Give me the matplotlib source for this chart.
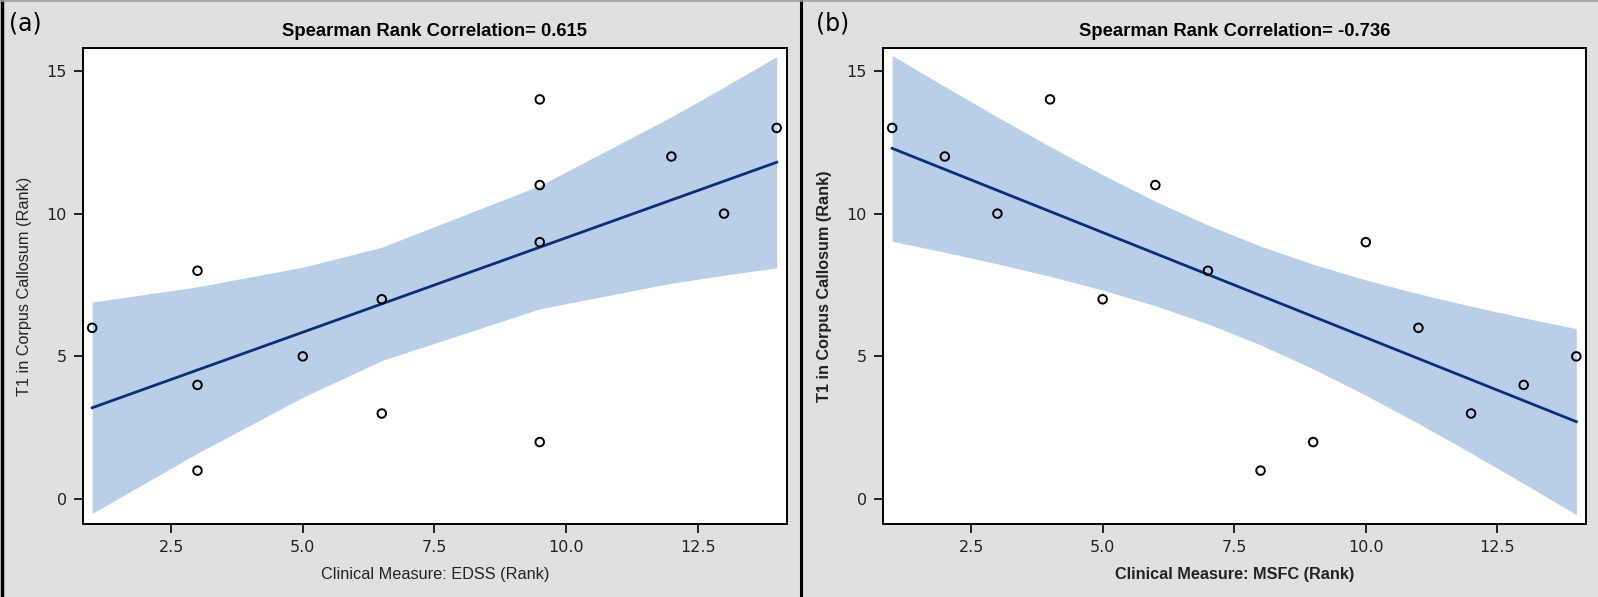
import numpy as np
import matplotlib
matplotlib.use("Agg")
import matplotlib.pyplot as plt
from matplotlib import font_manager as fm
from matplotlib.lines import Line2D

# ---- data ----
edss_rank = [1, 3, 3, 3, 5, 6.5, 6.5, 9.5, 9.5, 9.5, 9.5, 12, 13, 14]
t1_rank_a = [6, 8, 4, 1, 5, 7, 3, 14, 11, 9, 2, 12, 10, 13]
msfc_rank = [1, 2, 3, 4, 5, 6, 7, 8, 9, 10, 11, 12, 13, 14]
t1_rank_b = [13, 12, 10, 14, 7, 11, 8, 1, 2, 9, 6, 3, 4, 5]
titles = ["Spearman Rank Correlation= 0.615", "Spearman Rank Correlation= -0.736"]
xlabels = ["Clinical Measure: EDSS (Rank)", "Clinical Measure: MSFC (Rank)"]
ylabel = "T1 in Corpus Callosum (Rank)"
panel_tags = ["(a)", "(b)"]
xticks = [2.5, 5.0, 7.5, 10.0, 12.5]
yticks = [0, 5, 10, 15]
T_CRIT = 2.1788  # t(0.975, df=12)

names = {f.name for f in fm.fontManager.ttflist}
narrow = "Liberation Sans Narrow" if "Liberation Sans Narrow" in names else "Liberation Sans"
tickfam = "DejaVu Sans"

BG = "#e0e0e0"
BAND = "#b9cfe8"
LINE = "#0b2e78"

fig = plt.figure(figsize=(15.98, 5.97), dpi=100, facecolor=BG)
W, H = 1598, 597
ax_a = fig.add_axes([82.7 / W, 1 - 524 / H, 704 / W, 476 / H])
ax_b = fig.add_axes([882.7 / W, 1 - 524 / H, 703.6 / W, 476 / H])


def fit_band(x, y):
    x = np.asarray(x, float)
    y = np.asarray(y, float)
    n = len(x)
    xm, ym = x.mean(), y.mean()
    sxx = ((x - xm) ** 2).sum()
    b = ((x - xm) * (y - ym)).sum() / sxx
    a = ym - b * xm
    resid = y - (a + b * x)
    s = np.sqrt((resid ** 2).sum() / (n - 2))
    xg = np.unique(x)
    yg = a + b * xg
    se = s * np.sqrt(1.0 / n + (xg - xm) ** 2 / sxx)
    return xg, yg, yg - T_CRIT * se, yg + T_CRIT * se


for i, (ax, x, y) in enumerate([(ax_a, edss_rank, t1_rank_a), (ax_b, msfc_rank, t1_rank_b)]):
    xg, yg, lo, hi = fit_band(x, y)
    ax.fill_between(xg, lo, hi, color=BAND, lw=0, zorder=1)
    ax.plot(xg, yg, color=LINE, lw=2.0, zorder=2)
    ax.scatter(x, y, s=38, facecolors="none", edgecolors="black", linewidths=1.4, zorder=3)
    ax.set_xlim(0.82, 14.19)
    ax.set_ylim(-0.87, 15.8)
    ax.set_xticks(xticks)
    ax.set_xticklabels([f"{t:.1f}" for t in xticks])
    ax.set_yticks(yticks)
    ax.set_yticklabels([str(t) for t in yticks])
    ax.tick_params(direction="out", length=6.5, width=1.2, colors="black", labelsize=11.5, pad=5)
    for lab in ax.get_xticklabels() + ax.get_yticklabels():
        lab.set_family(tickfam)
        lab.set_color("#222222")
    for sp in ax.spines.values():
        sp.set_linewidth(1.4)
        sp.set_color("black")
    ax.set_facecolor("white")
    weight = "normal" if i == 0 else "bold"
    ax.set_title(titles[i], fontsize=13.3, fontweight="bold", family=narrow, pad=9)
    ax.set_xlabel(xlabels[i], fontsize=11.7, fontweight=weight, family=narrow, labelpad=9, color="#222222")
    ax.set_ylabel(ylabel, fontsize=11.7, fontweight=weight, family=narrow, labelpad=10, color="#222222")

fig.text(9 / W, 1 - 24 / H, panel_tags[0], fontsize=17, family="DejaVu Sans", va="center", ha="left")
fig.text(816 / W, 1 - 24 / H, panel_tags[1], fontsize=17, family="DejaVu Sans", va="center", ha="left")

# frame lines
fig.add_artist(Line2D([1.5 / W, 1.5 / W], [0, 1], transform=fig.transFigure, color="black", lw=2.5))
fig.add_artist(Line2D([800.7 / W, 800.7 / W], [0, 1], transform=fig.transFigure, color="black", lw=2.2))
fig.add_artist(Line2D([0, 1], [1 - 0.5 / H, 1 - 0.5 / H], transform=fig.transFigure, color="#a0a0a0", lw=1.2))

fig.savefig("out.png", dpi=100, facecolor=BG)
